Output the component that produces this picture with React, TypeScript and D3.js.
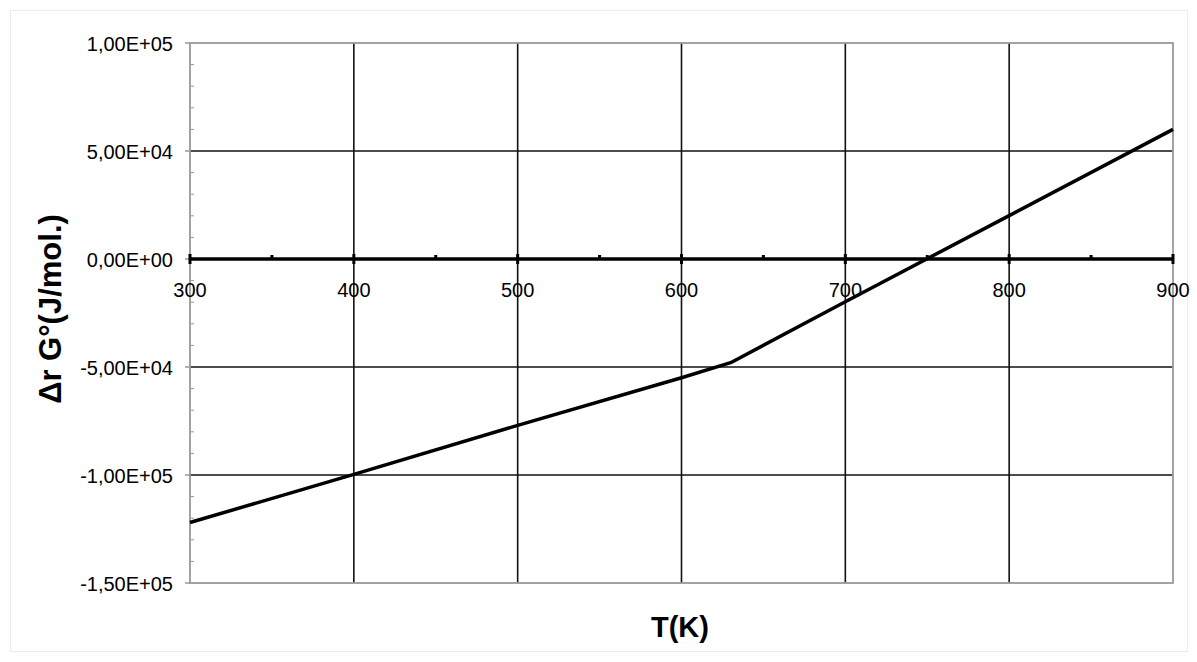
import React from "react";
import * as d3 from "d3";

const temps = [300, 400, 500, 600, 630, 700, 800, 900];
const gibbs = [-122000, -99700, -77000, -55000, -48000, -19800, 20100, 60000];
const xMajorTicks = [300, 400, 500, 600, 700, 800, 900];
const xMinorTicks = [350, 450, 550, 650, 750, 850];
const yMajorTicks = [100000, 50000, 0, -50000, -100000, -150000];
const yTickLabels = ["1,00E+05", "5,00E+04", "0,00E+00", "-5,00E+04", "-1,00E+05", "-1,50E+05"];
const yTitle = "\u0394r G\u00b0(J/mol.)";
const xTitle = "T(K)";

const W = 1197;
const H = 662;
const L = 190, R = 1173, T = 43, B = 583;
const font = "Arial, 'Liberation Sans', sans-serif";

export default function App() {
  const x = d3.scaleLinear().domain([300, 900]).range([L, R]);
  const y = d3.scaleLinear().domain([-150000, 100000]).range([B, T]);
  const yMinor = d3.range(-150000, 100001, 10000).filter((v) => v % 50000 !== 0);
  const line = d3
    .line<number>()
    .x((_, i) => x(temps[i]))
    .y((d) => y(d));
  const y0 = y(0);
  return (
    <svg
      width={W}
      height={H}
      style={{ position: "absolute", left: 0, top: 0, background: "#fff" }}
    >
      <rect x={0} y={0} width={W} height={H} fill="#fff" />
      <rect x={10.5} y={10.5} width={1177} height={641} fill="none" stroke="#ececec" strokeWidth={1} />
      {/* grid */}
      {xMajorTicks.slice(1, -1).map((t) => (
        <line key={"vx" + t} x1={x(t)} x2={x(t)} y1={T} y2={B} stroke="#111" strokeWidth={1.6} />
      ))}
      {yMajorTicks.filter((v) => v !== 0 && v !== 100000 && v !== -150000).map((v) => (
        <line key={"hy" + v} x1={L} x2={R} y1={y(v)} y2={y(v)} stroke="#111" strokeWidth={1.6} />
      ))}
      {/* plot border */}
      <rect x={L} y={T} width={R - L} height={B - T} fill="none" stroke="#999" strokeWidth={1.8} />
      {/* y minor ticks inside */}
      {yMinor.map((v) => (
        <line key={"ym" + v} x1={L} x2={L + 4} y1={y(v)} y2={y(v)} stroke="#999" strokeWidth={1} />
      ))}
      {/* y major ticks outside */}
      {yMajorTicks.map((v) => (
        <line key={"yM" + v} x1={L - 5} x2={L} y1={y(v)} y2={y(v)} stroke="#999" strokeWidth={1.5} />
      ))}
      {/* y labels */}
      {yMajorTicks.map((v, i) => (
        <text
          key={"yl" + v}
          x={173}
          y={y(v)}
          dy="0.4em"
          textAnchor="end"
          fontFamily={font}
          fontSize={20}
          fill="#000"
        >
          {yTickLabels[i]}
        </text>
      ))}
      {/* zero axis */}
      <line x1={L} x2={R} y1={y0} y2={y0} stroke="#000" strokeWidth={3.5} />
      {xMajorTicks.map((t) => (
        <line key={"xM" + t} x1={x(t)} x2={x(t)} y1={y0 - 5} y2={y0 + 5} stroke="#000" strokeWidth={3} />
      ))}
      {xMinorTicks.map((t) => (
        <line key={"xm" + t} x1={x(t)} x2={x(t)} y1={y0 - 4} y2={y0} stroke="#000" strokeWidth={3} />
      ))}
      {xMajorTicks.map((t) => (
        <text
          key={"xl" + t}
          x={x(t)}
          y={297}
          textAnchor="middle"
          fontFamily={font}
          fontSize={20}
          fill="#000"
        >
          {t}
        </text>
      ))}
      {/* data line */}
      <path d={line(gibbs) || ""} fill="none" stroke="#000" strokeWidth={3.5} strokeLinejoin="round" />
      {/* titles */}
      <text
        x={680}
        y={637}
        textAnchor="middle"
        fontFamily={font}
        fontSize={29}
        fontWeight="bold"
        fill="#000"
      >
        {xTitle}
      </text>
      <text
        transform="translate(61,309) rotate(-90)"
        textAnchor="middle"
        fontFamily={font}
        fontSize={31}
        fontWeight="bold"
        fill="#000"
      >
        {yTitle}
      </text>
    </svg>
  );
}
